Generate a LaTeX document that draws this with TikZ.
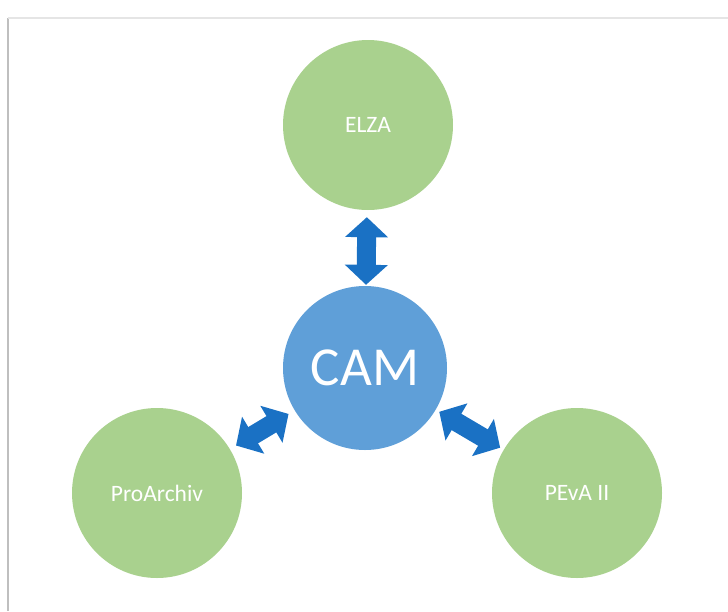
\documentclass[tikz,border=0pt]{standalone}
\usepackage{fontspec}
\setmainfont{Carlito}
\usepackage{tikz}
\usetikzlibrary{arrows.meta}
\definecolor{camblue}{HTML}{5F9FD8}
\definecolor{sysgreen}{HTML}{A9D18E}
\definecolor{linkblue}{HTML}{1A71C4}
\tikzset{
	sysnode/.style={circle, fill=sysgreen, text=white, minimum size=170pt, inner sep=0pt, font=\fontsize{23.5}{28}\selectfont},
	hubnode/.style={circle, fill=camblue, text=white, minimum size=164pt, inner sep=0pt, font=\fontsize{55}{64}\selectfont},
	link/.style={draw=linkblue, line width=19pt, {Triangle[width=42pt,length=20pt]}-{Triangle[width=42pt,length=20pt]}, shorten <=7pt, shorten >=7pt}
}

\begin{document}
\begin{tikzpicture}[x=1pt,y=-1pt]
	\useasboundingbox (0,0) rectangle (728,611);
	% Frame
	\draw [black!25, line width=2.5pt] (8,611) -- (8,18);
	\draw [black!10, line width=1.5pt] (8,18) -- (728,18);
	% Draw the nodes
	\node [hubnode] at (365,368) (CAM) {CAM};
	\node [sysnode] at (368,125) (ELZA) {ELZA};
	\node [sysnode] at (157,493) (ProArchiv) {ProArchiv};
	\node [sysnode] at (577,493) (PEvA) {PEvA II};
	% Draw the links between nodes
	\draw [link, shorten >=1pt] (ELZA) -- (CAM);
	\draw [link] (ProArchiv) -- (CAM);
	\draw [link, shorten <=4pt, shorten >=4pt] (PEvA) -- (CAM);
\end{tikzpicture}
\end{document}
